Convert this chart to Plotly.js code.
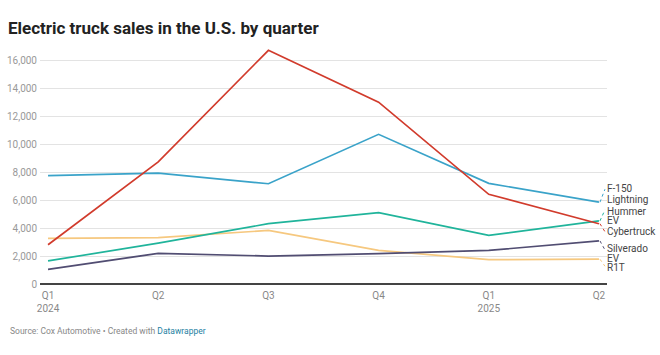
<!DOCTYPE html>
<html>
<head>
<meta charset="utf-8">
<script src="https://cdn.plot.ly/plotly-3.0.1.min.js"></script>
<style>
html,body{margin:0;padding:0;background:#fff;}
#chart{width:660px;height:355px;}
</style>
</head>
<body>
<div id="chart"></div>
<script>
// Data
const quarters = ["Q1<br>2024", "Q2", "Q3", "Q4", "Q1<br>2025", "Q2"];
const seriesNames = ["F-150 Lightning", "Cybertruck", "Hummer EV", "Silverado EV", "R1T"];
const f150 = [7743, 7913, 7162, 10692, 7187, 5842];
const cybertruck = [2803, 8720, 16692, 12991, 6406, 4306];
const hummer = [1646, 2919, 4307, 5100, 3474, 4508];
const silverado = [1049, 2193, 1996, 2170, 2400, 3077];
const r1t = [3263, 3318, 3825, 2400, 1740, 1770];
const endLabels = [["F-150", "Lightning"], ["Cybertruck"], ["Hummer", "EV"], ["Silverado", "EV"], ["R1T"]];
const yTicks = [0, 2000, 4000, 6000, 8000, 10000, 12000, 14000, 16000];

// Styles
const colors = ["#3aa3c9", "#d13b2c", "#20b49b", "#514d72", "#f6c87f"];
const labelShifts = [[14, 3], [-7.5], [9.5, 0], [-8, -17.5], [-8.5]];
const leaderEnd = [13, -8, 11, -9, -7];
const values = [f150, cybertruck, hummer, silverado, r1t];
const xIdx = quarters.map((_, i) => i);
const last = xIdx.length - 1;
const font = "Roboto, 'Noto Sans', sans-serif";

// draw order: R1T, Silverado, Hummer, F-150, Cybertruck
const order = [4, 3, 2, 0, 1];
const traces = order.map(i => ({
  type: "scatter", mode: "lines", x: xIdx, y: values[i], name: seriesNames[i],
  line: {color: colors[i], width: 1.7}, hoverinfo: "skip"
}));

const annotations = [];
const shapes = [];
values.forEach((v, i) => {
  endLabels[i].forEach((t, k) => {
    annotations.push({
      xref: "x", yref: "y", x: last, y: v[last], text: t, showarrow: false,
      xanchor: "left", yanchor: "middle", xshift: 6, yshift: labelShifts[i][k],
      font: {family: font, size: 10, color: "#444"}
    });
  });
  shapes.push({
    type: "line", xref: "x", yref: "y", xsizemode: "pixel", ysizemode: "pixel",
    xanchor: last, yanchor: v[last], x0: 1, x1: 6, y0: 0, y1: leaderEnd[i],
    line: {color: colors[i], width: 1, dash: "dot"}
  });
});

annotations.push({
  xref: "paper", yref: "paper", x: 0, y: 0, xanchor: "left", yanchor: "middle",
  xshift: -32, yshift: -47, showarrow: false,
  text: "Source: Cox Automotive • Created with <span style='color:#1d81a2'>Datawrapper</span>",
  font: {family: font, size: 8.5, color: "#888"}
});

const layout = {
  width: 660, height: 355,
  margin: {l: 40, r: 53, t: 46, b: 71},
  paper_bgcolor: "#fff", plot_bgcolor: "#fff",
  showlegend: false,
  title: {
    text: "<b>Electric truck sales in the U.S. by quarter</b>",
    x: 0.012, xanchor: "left", xref: "container",
    y: 0.92, yanchor: "middle", yref: "container",
    font: {family: font, size: 17, color: "#222"}
  },
  xaxis: {
    range: [-0.073, last + 0.073], tickmode: "array", tickvals: xIdx, ticktext: quarters,
    showgrid: false, zeroline: false, showline: false, ticks: "", ticklabelstandoff: 4,
    tickfont: {family: font, size: 10, color: "#888"}, fixedrange: true
  },
  yaxis: {
    range: [0, 17000], tickmode: "array", tickvals: yTicks,
    ticktext: yTicks.map(v => v.toLocaleString("en-US")),
    showgrid: true, gridcolor: "#e3e3e3", gridwidth: 1,
    zeroline: true, zerolinecolor: "#444", zerolinewidth: 1.6,
    showline: false, ticks: "", ticklabelstandoff: 2,
    tickfont: {family: font, size: 10, color: "#999"}, fixedrange: true
  },
  annotations: annotations,
  shapes: shapes
};

Plotly.newPlot("chart", traces, layout, {displayModeBar: false, staticPlot: true});
</script>
</body>
</html>
